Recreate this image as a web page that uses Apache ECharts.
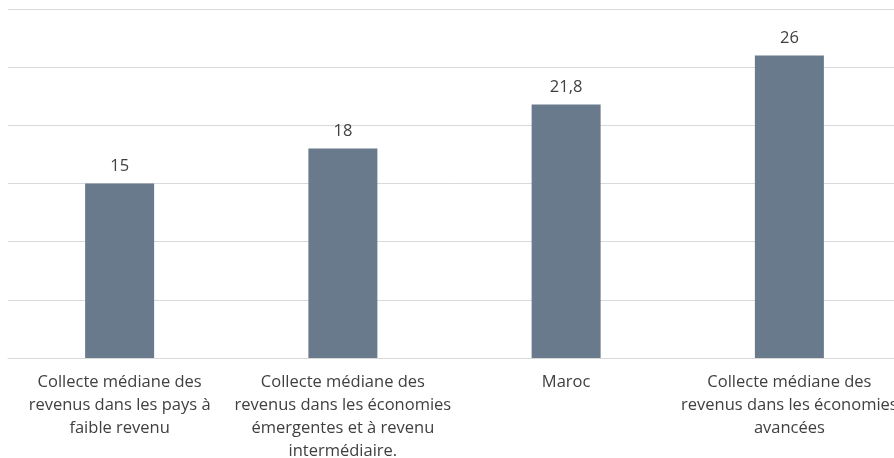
<!DOCTYPE html>
<html>
<head>
<meta charset="utf-8">
<script src="https://cdn.jsdelivr.net/npm/echarts@6/dist/echarts.min.js"></script>
<style>
html, body { margin: 0; padding: 0; background: #fff; }
#chart { width: 894px; height: 458px; }
</style>
</head>
<body>
<div id="chart"></div>
<script>
// Categories (line breaks as shown under the axis)
const categories = [
  "Collecte médiane des\nrevenus dans les pays à\nfaible revenu",
  "Collecte médiane des\nrevenus dans les économies\némergentes et à revenu\nintermédiaire.",
  "Maroc",
  "Collecte médiane des\nrevenus dans les économies\navancées"
];
// Median revenue collection values
const values = [15, 18, 21.8, 26];

const fontFamily = "'Open Sans', Lato, sans-serif";
const chart = echarts.init(document.getElementById('chart'));
chart.setOption({
  animation: false,
  grid: { left: 8, right: -7, top: 9, bottom: 100, outerBoundsMode: 'none' },
  xAxis: {
    type: 'category',
    data: categories,
    axisTick: { show: false },
    axisLine: { lineStyle: { color: '#d9d9d9', width: 1 } },
    axisLabel: {
      interval: 0,
      color: '#404040',
      fontFamily: fontFamily,
      fontSize: 16.5,
      lineHeight: 23,
      margin: 13
    }
  },
  yAxis: {
    type: 'value',
    min: 0,
    max: 30,
    interval: 5,
    axisLabel: { show: false },
    axisLine: { show: false },
    axisTick: { show: false },
    splitLine: { lineStyle: { color: '#d9d9d9', width: 1 } }
  },
  series: [{
    type: 'bar',
    data: values,
    barWidth: 69,
    itemStyle: { color: '#687a8c' },
    label: {
      show: true,
      position: 'top',
      distance: 9,
      color: '#404040',
      fontFamily: fontFamily,
      fontSize: 16.5,
      formatter: p => String(p.value).replace('.', ',')
    }
  }]
});
</script>
</body>
</html>
